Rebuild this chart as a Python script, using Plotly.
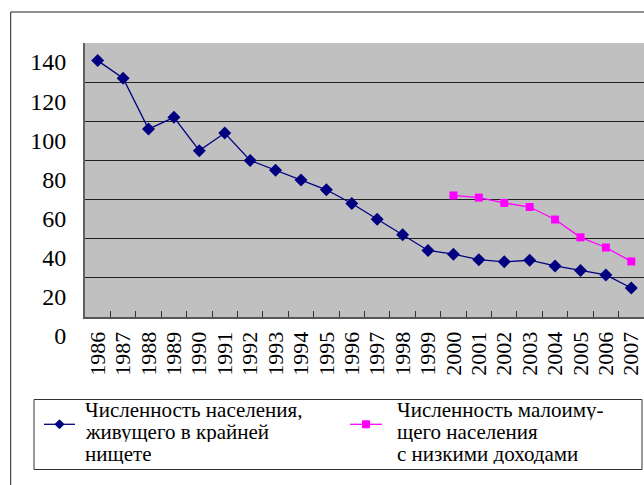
import plotly.graph_objects as go

years = [str(y) for y in range(1986, 2008)]
extreme_poverty = [131, 122, 96, 102, 85, 94, 80, 75, 70, 65, 58, 50, 42, 34,
                   32.1, 29.3, 28.2, 29.0, 26.1, 23.7, 21.5, 14.8]
low_income_years = [str(y) for y in range(2000, 2008)]
low_income = [62.1, 61.0, 58.3, 56.2, 49.8, 40.7, 35.5, 28.4]
y_ticks = [0, 20, 40, 60, 80, 100, 120, 140]

legend1_lines = ["Численность населения,", "живущего в крайней", "нищете"]
legend2_lines = ["Численность малоиму-", "щего населения", "с низкими доходами"]

NAVY = "#000080"
MAGENTA = "#FF00FF"

W, H = 644, 485
ML, MR, MT, MB = 85, 0, 43, 168
PW, PH = W - ML - MR, H - MT - MB


def px(x):
    return (x - ML) / PW


def py(y):
    return (H - MB - y) / PH


fig = go.Figure()
fig.add_trace(go.Scatter(
    x=years, y=extreme_poverty, name=" ".join(legend1_lines), mode="lines+markers",
    line=dict(color=NAVY, width=1.3),
    marker=dict(symbol="diamond", size=10, color=NAVY),
))
fig.add_trace(go.Scatter(
    x=low_income_years, y=low_income, name=" ".join(legend2_lines), mode="lines+markers",
    line=dict(color=MAGENTA, width=1.3),
    marker=dict(symbol="square", size=8, color=MAGENTA),
))

fig.update_layout(
    template="none",
    width=W, height=H,
    margin=dict(l=ML, r=MR, t=MT, b=MB, autoexpand=False),
    paper_bgcolor="white",
    plot_bgcolor="#C0C0C0",
    font=dict(family="Liberation Serif", color="black"),
    showlegend=False,
    xaxis=dict(
        type="category", categoryorder="array", categoryarray=years,
        tickmode="array", tickvals=years, ticktext=years,
        range=[-0.5, 21.5], automargin=False,
        showgrid=False,
        showline=True, linecolor="#555555", linewidth=2,
        ticks="inside", tickson="boundaries", ticklen=6, tickcolor="#333333",
        tickangle=-90,
        tickfont=dict(family="Liberation Serif", size=22, color="black"),
        ticklabelstandoff=4,
    ),
    yaxis=dict(
        range=[0, 140], tickvals=y_ticks, automargin=False,
        showgrid=True, gridcolor="#222222", gridwidth=1,
        showline=True, linecolor="#606060", linewidth=2, mirror=True,
        ticks="", zeroline=False,
        tickfont=dict(family="Liberation Serif", size=24, color="black"),
        ticklabelshift=19, ticklabelstandoff=12,
    ),
)

# outer chart border (extends past the right and bottom edges of the picture)
fig.add_shape(type="rect", xref="paper", yref="paper",
              x0=px(10.7), x1=px(660), y0=py(500), y1=py(12),
              line=dict(color="#222222", width=1), layer="below")

# legend box
fig.add_shape(type="rect", xref="paper", yref="paper",
              x0=px(34), x1=px(642), y0=py(469.5), y1=py(399.5),
              line=dict(color="#333333", width=1), fillcolor="white", layer="below")

# legend symbols
sym_y = 424.3
for (x0, x1, color, kind) in [(44, 75, NAVY, "diamond"), (350, 382, MAGENTA, "square")]:
    fig.add_shape(type="line", xref="paper", yref="paper",
                  x0=px(x0), x1=px(x1), y0=py(sym_y), y1=py(sym_y),
                  line=dict(color=color, width=1.3))
    cx = (x0 + x1) / 2
    if kind == "diamond":
        d = 4.5
        path = (f"M {px(cx)} {py(sym_y - d)} L {px(cx + d)} {py(sym_y)} "
                f"L {px(cx)} {py(sym_y + d)} L {px(cx - d)} {py(sym_y)} Z")
        fig.add_shape(type="path", xref="paper", yref="paper", path=path,
                      fillcolor=color, line=dict(color=color, width=1))
    else:
        d = 3.5
        fig.add_shape(type="rect", xref="paper", yref="paper",
                      x0=px(cx - d), x1=px(cx + d), y0=py(sym_y + d), y1=py(sym_y - d),
                      fillcolor=color, line=dict(color=color, width=1))

# legend texts
baselines = [416.7, 438.3, 460.0]
for x_left, lines in [(84, legend1_lines), (396, legend2_lines)]:
    for b, t in zip(baselines, lines):
        fig.add_annotation(
            text=t, xref="paper", yref="paper",
            x=px(x_left), y=py(b - 7.0), xanchor="left", yanchor="middle",
            showarrow=False, borderpad=0, height=21, valign="middle",
            font=dict(family="Liberation Serif", size=21, color="black"),
        )

fig.write_html("out.html", config={"displayModeBar": False},
               post_script="document.body.style.margin='0px';")
